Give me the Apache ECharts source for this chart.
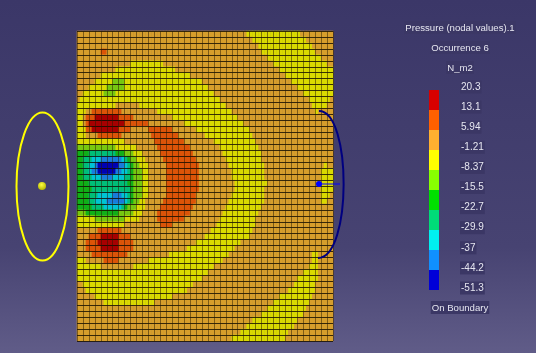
<!DOCTYPE html>
<html>
<head>
<meta charset="utf-8">
<script src="https://cdn.jsdelivr.net/npm/echarts@6/dist/echarts.min.js"></script>
<style>
  html, body { margin: 0; padding: 0; }
  #main { width: 536px; height: 353px; }
</style>
</head>
<body>
<div id="main"></div>
<script>
// colour bar, top to bottom
const legendLabels = ["20.3", "13.1", "5.94", "-1.21", "-8.37", "-15.5", "-22.7", "-29.9", "-37", "-44.2", "-51.3"];
const legendColors = ["#d80000", "#ff6000", "#ffb030", "#ffff00", "#88ff00", "#00e000", "#00dc78", "#00f0f0", "#1090ff", "#0000d8"];
// same bands as they look on the lit mesh
const meshColors = ["#a80000", "#dc5408", "#d69e2c", "#dada00", "#78c810", "#10b018", "#00be78", "#00c4d4", "#187cdc", "#0000b4"];

// pressure band per mesh row, written as band:endColumn runs
const meshRows = [
  "2:57 3:75 2:86",
  "2:59 3:77 2:86",
  "2:61 3:79 2:86",
  "2:8 1:10 2:62 3:80 2:86",
  "2:64 3:82 2:86",
  "2:18 3:29 2:66 3:84 2:86",
  "2:13 3:33 2:68 3:86",
  "2:8 3:38 2:70 3:86",
  "2:6 3:12 4:16 3:42 2:72 3:86",
  "2:4 3:10 4:16 3:44 2:74 3:86",
  "2:2 3:9 4:13 3:46 2:76 3:86",
  "2:1 3:48 2:78 3:85 2:86",
  "3:13 2:21 3:50 2:79 3:84 2:86",
  "3:3 2:5 1:15 2:27 3:52 2:80 3:81 2:86",
  "3:2 2:3 1:6 0:14 1:19 2:32 3:54 2:86",
  "3:2 2:3 1:4 0:16 1:24 2:36 3:56 2:86",
  "3:3 1:5 0:14 1:18 2:24 1:32 2:40 3:58 2:86",
  "3:3 2:7 1:15 2:25 1:34 2:43 3:59 2:86",
  "3:16 2:26 1:36 2:46 3:60 2:86",
  "4:13 3:20 2:27 1:38 2:48 3:61 2:86",
  "5:4 6:13 5:16 4:19 3:22 2:28 1:39 2:49 3:62 2:86",
  "5:2 6:5 7:8 8:15 7:16 6:17 5:18 4:20 3:23 2:29 1:40 2:50 3:62 2:86",
  "5:2 6:4 7:6 8:7 9:14 8:16 7:17 6:18 5:19 4:21 3:24 2:30 1:41 2:51 3:63 2:83 3:84 2:86",
  "5:2 6:4 7:5 8:7 9:13 8:15 7:17 6:18 5:19 4:22 3:24 2:30 1:41 2:52 3:63 2:82 3:86",
  "5:2 6:5 7:8 8:12 7:16 6:18 5:19 4:22 3:24 2:30 1:41 2:52 3:63 2:82 3:86",
  "5:4 6:17 5:19 4:22 3:24 2:30 1:41 2:53 3:64 2:82 3:86",
  "5:5 6:18 5:19 4:22 3:24 2:30 1:41 2:53 3:63 2:82 3:86",
  "5:4 6:7 7:12 8:15 7:17 6:18 5:19 4:22 3:24 2:30 1:40 2:52 3:63 2:82 3:85 2:86",
  "5:4 6:6 7:10 8:16 7:17 6:18 5:19 4:21 3:23 2:29 1:40 2:51 3:63 2:82 3:84 2:86",
  "5:5 6:9 7:15 6:16 5:17 4:20 3:23 2:28 1:39 2:50 3:62 2:86",
  "4:3 5:14 4:19 3:22 2:27 1:38 2:49 3:61 2:86",
  "3:6 4:16 3:21 2:27 1:36 2:48 3:60 2:86",
  "3:16 2:28 1:32 2:47 3:60 2:86",
  "2:7 1:15 2:45 3:59 2:86",
  "2:4 1:8 0:14 1:18 2:43 3:58 2:86",
  "2:3 1:7 0:14 1:19 2:40 3:55 2:86",
  "2:3 1:8 0:14 1:19 2:37 3:53 2:86",
  "2:5 1:17 2:31 3:51 2:79 3:81 2:86",
  "3:3 2:9 1:14 2:24 3:49 2:79 3:81 2:86",
  "3:8 2:19 3:46 2:78 3:81 2:86",
  "3:44 2:76 3:81 2:86",
  "3:42 2:74 3:81 2:86",
  "2:2 3:39 2:73 3:80 2:86",
  "2:3 3:37 2:71 3:80 2:86",
  "2:6 3:32 2:68 3:79 2:86",
  "2:9 3:26 2:66 3:78 2:86",
  "2:64 3:77 2:86",
  "2:62 3:76 2:86",
  "2:59 3:74 2:86",
  "2:57 3:73 2:86",
  "2:55 3:71 2:86",
  "2:52 3:70 2:86"
];

const textColor = "#e6e6f0";
const boxColor = "#3b3765";
const textFont = "Liberation Sans";

const chart = echarts.init(document.getElementById("main"));

// unpack the runs into heatmap cells
const cells = [];
meshRows.forEach((row, r) => {
  let col = 0;
  row.split(" ").forEach((run) => {
    const [band, end] = run.split(":").map(Number);
    for (; col < end; col++) cells.push([col, r, band]);
  });
});

const titleItem = (text, top) => ({
  text: text,
  left: 459,
  top: top,
  textAlign: "center",
  padding: [2, 1, 1, 1],
  backgroundColor: boxColor,
  textStyle: { color: textColor, fontSize: 9.6, fontWeight: "normal", fontFamily: textFont }
});

const option = {
  animation: false,
  backgroundColor: new echarts.graphic.LinearGradient(0, 0, 0, 1, [
    { offset: 0, color: "#3b3768" },
    { offset: 0.7, color: "#474372" },
    { offset: 1, color: "#605c88" }
  ]),
  title: [
    titleItem("Pressure (nodal values).1", 21),
    titleItem("Occurrence 6", 41),
    titleItem("N_m2", 61),
    titleItem("On Boundary", 301)
  ],
  grid: [
    { left: 77, top: 31, width: 256, height: 310 },
    { left: 429, top: 90, width: 10, height: 200 },
    { left: 429, top: 87, width: 31, height: 201 }
  ],
  xAxis: [
    {
      type: "category",
      gridIndex: 0,
      z: 5,
      data: Array.from({ length: 86 }, (_, i) => i),
      axisLine: { show: false },
      axisTick: { show: false },
      axisLabel: { show: false },
      splitLine: {
        show: true,
        interval: 1,
        lineStyle: { color: "rgba(40,25,0,0.5)", width: 1 }
      }
    },
    { type: "category", gridIndex: 1, data: ["band"], show: false },
    { type: "category", gridIndex: 2, data: ["band"], show: false }
  ],
  yAxis: [
    {
      type: "category",
      gridIndex: 0,
      inverse: true,
      z: 5,
      data: meshRows.map((_, i) => i),
      axisLine: { show: false },
      axisTick: { show: false },
      axisLabel: { show: false },
      splitLine: {
        show: true,
        interval: 0,
        lineStyle: { color: "rgba(15,10,0,0.8)", width: 1 }
      }
    },
    {
      type: "value",
      gridIndex: 1,
      inverse: true,
      min: 0,
      max: 10,
      show: false
    },
    {
      type: "value",
      gridIndex: 2,
      inverse: true,
      min: 0,
      max: 10,
      interval: 1,
      axisLine: { show: false },
      axisTick: { show: false },
      splitLine: { show: false },
      position: "right",
      axisLabel: {
        margin: 0,
        color: textColor,
        fontSize: 10,
        fontFamily: textFont,
        backgroundColor: boxColor,
        padding: [2, 1, 1, 1],
        formatter: (v) => legendLabels[v]
      }
    }
  ],
  visualMap: {
    show: false,
    type: "piecewise",
    seriesIndex: 0,
    dimension: 2,
    pieces: meshColors.map((c, i) => ({ value: i, color: c }))
  },
  series: [
    {
      type: "heatmap",
      data: cells,
      progressive: 0,
      xAxisIndex: 0,
      yAxisIndex: 0,
      itemStyle: { borderWidth: 0 }
    }
  ].concat(legendColors.map((c) => ({
    type: "bar",
    stack: "legend",
    xAxisIndex: 1,
    yAxisIndex: 1,
    barWidth: 10,
    itemStyle: { color: c },
    data: [1]
  }))),
  graphic: [
    {
      type: "ellipse",
      shape: { cx: 42.5, cy: 186.5, rx: 26, ry: 74 },
      style: { fill: "none", stroke: "#ffff00", lineWidth: 2 }
    },
    {
      type: "circle",
      shape: { cx: 42, cy: 186, r: 4 },
      style: {
        fill: new echarts.graphic.RadialGradient(0.45, 0.35, 0.7, [
          { offset: 0, color: "#ffff40" },
          { offset: 1, color: "#b0b000" }
        ])
      }
    },
    {
      type: "bezierCurve",
      z: 10,
      shape: { x1: 319, y1: 111, cpx1: 352, cpy1: 111, cpx2: 352, cpy2: 258, x2: 318, y2: 258 },
      style: { fill: "none", stroke: "#000080", lineWidth: 2 }
    },
    {
      type: "line",
      z: 10,
      shape: { x1: 319, y1: 184, x2: 340, y2: 184 },
      style: { stroke: "#0000ff", lineWidth: 1 }
    },
    {
      type: "circle",
      z: 10,
      shape: { cx: 319, cy: 184, r: 3 },
      style: { fill: "#0000ff" }
    }
  ]
};

chart.setOption(option);
</script>
</body>
</html>
